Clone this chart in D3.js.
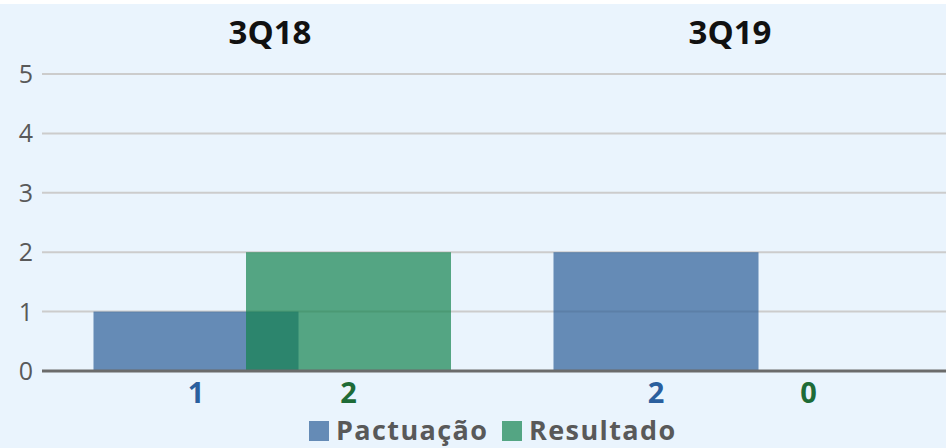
<!DOCTYPE html>
<html>
<head>
<meta charset="utf-8">
<script src="https://cdn.jsdelivr.net/npm/d3@7"></script>
<style>
  html, body { margin: 0; padding: 0; background: #fff; }
  svg { display: block; font-family: 'Open Sans', sans-serif; }
</style>
</head>
<body>
<svg width="946" height="448"></svg>
<script>
const categories = ['3Q18', '3Q19'];
const series = ['Pactuação', 'Resultado'];
const pactuacao = [1, 2];
const resultado = [2, 0];
const yTicks = [0, 1, 2, 3, 4, 5];

const svg = d3.select('svg');
const width = +svg.attr('width');

const fill = d3.scaleOrdinal().domain(series).range(['rgb(44,94,151)', 'rgb(20,131,79)']);
const labelColor = d3.scaleOrdinal().domain(series).range(['#2a5f9e', '#1e6b37']);

const x = d3.scaleBand().domain(categories).range([42, 962]);
const offset = d3.scalePoint().domain(series).range([-76, 76.5]);
const barW = 205;
const y = d3.scaleLinear().domain([0, 5]).range([371, 74]);

svg.append('rect')
    .attr('x', 0).attr('y', 4)
    .attr('width', width).attr('height', 444)
    .attr('fill', '#eaf4fd');

// grid
svg.append('g')
  .selectAll('line')
  .data(yTicks.filter(d => d > 0))
  .enter().append('line')
    .attr('x1', 42).attr('x2', width)
    .attr('y1', d => y(d)).attr('y2', d => y(d))
    .attr('stroke', '#cccccc').attr('stroke-width', 2);

svg.append('g')
  .selectAll('text')
  .data(yTicks)
  .enter().append('text')
    .attr('x', 33).attr('y', d => y(d) + 9)
    .attr('text-anchor', 'end')
    .attr('font-size', 25)
    .attr('fill', '#595959')
    .text(d => d);

const rows = [];
categories.forEach((c, i) => {
  rows.push({ cat: c, s: series[0], v: pactuacao[i] });
  rows.push({ cat: c, s: series[1], v: resultado[i] });
});
const cx = d => x(d.cat) + x.bandwidth() / 2 + offset(d.s);

svg.append('g')
  .selectAll('rect')
  .data(rows)
  .enter().append('rect')
    .attr('x', d => cx(d) - barW / 2)
    .attr('y', d => y(d.v))
    .attr('width', barW)
    .attr('height', d => y(0) - y(d.v))
    .attr('fill', d => fill(d.s))
    .attr('fill-opacity', 0.7);

svg.append('line')
    .attr('x1', 42).attr('x2', width)
    .attr('y1', y(0)).attr('y2', y(0))
    .attr('stroke', '#6b6b6b').attr('stroke-width', 3);

// value labels
svg.append('g')
  .selectAll('text')
  .data(rows)
  .enter().append('text')
    .attr('x', cx)
    .attr('y', 403)
    .attr('text-anchor', 'middle')
    .attr('font-size', 29).attr('font-weight', 'bold')
    .attr('fill', d => labelColor(d.s))
    .text(d => d.v);

// category titles
svg.append('g')
  .selectAll('text')
  .data(categories)
  .enter().append('text')
    .attr('x', d => x(d) + x.bandwidth() / 2 - 2)
    .attr('y', 44)
    .attr('text-anchor', 'middle')
    .attr('font-size', 33).attr('font-weight', 'bold')
    .attr('fill', '#111')
    .text(d => d);

// legend
const legendX = [309, 502];
const legend = svg.append('g')
  .selectAll('g')
  .data(series)
  .enter().append('g')
    .attr('transform', (d, i) => `translate(${legendX[i]},421)`);
legend.append('rect')
    .attr('width', 20).attr('height', 20)
    .attr('fill', d => fill(d)).attr('fill-opacity', 0.7);
legend.append('text')
    .attr('x', 27).attr('y', 19)
    .attr('font-size', 27).attr('font-weight', 'bold')
    .attr('letter-spacing', 1.4)
    .attr('fill', '#595959')
    .text(d => d);
</script>
</body>
</html>
